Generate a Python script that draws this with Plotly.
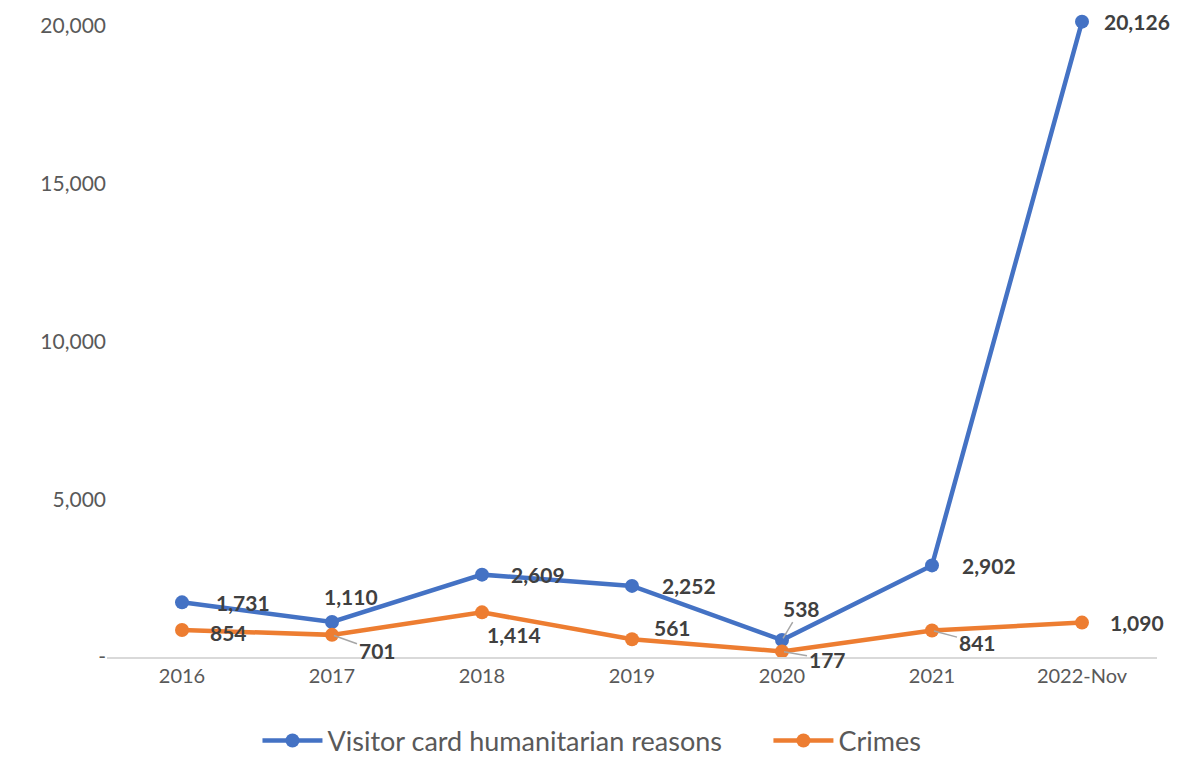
import plotly.graph_objects as go

categories = ["2016", "2017", "2018", "2019", "2020", "2021", "2022-Nov"]
visitor_card = [1731, 1110, 2609, 2252, 538, 2902, 20126]
crimes = [854, 701, 1414, 561, 177, 841, 1090]
tick_vals = [0, 5000, 10000, 15000, 20000]
tick_text = ["-", "5,000", "10,000", "15,000", "20,000"]

BLUE = "#4472C4"
ORANGE = "#ED7D31"
FONT = "Lato"

fig = go.Figure()
fig.add_trace(go.Scatter(x=categories, y=visitor_card, mode="lines+markers",
                         name="Visitor card humanitarian reasons" + "\u00a0" * 6,
                         line=dict(color=BLUE, width=4.5),
                         marker=dict(color=BLUE, size=14)))
fig.add_trace(go.Scatter(x=categories, y=crimes, mode="lines+markers",
                         name="Crimes",
                         line=dict(color=ORANGE, width=4.5),
                         marker=dict(color=ORANGE, size=14)))

# label offsets (pixels) and whether a leader line is drawn
blue_off = [(61, 0, False), (19, -25, False), (56, 0, False), (57, 0, False),
            (19, -32, True), (57, 0, False), (55, 0, False)]
orange_off = [(46, 2, False), (45, 16, True), (32, 22, False), (40, -12, False),
              (45, 8, True), (45, 12, True), (55, 0, False)]

def add_labels(vals, offs):
    for i, (v, (dx, dy, leader)) in enumerate(zip(vals, offs)):
        fig.add_annotation(x=i, y=v, xref="x", yref="y", text=f"<b>{v:,}</b>",
                           showarrow=True, ax=dx, ay=dy, axref="pixel", ayref="pixel",
                           arrowhead=0, arrowwidth=1.5,
                           arrowcolor="#A6A6A6" if leader else "rgba(0,0,0,0)",
                           standoff=2,
                           font=dict(family=FONT, size=21, color="#404040"))

add_labels(visitor_card, blue_off)
add_labels(crimes, orange_off)

fig.update_layout(
    width=1175, height=751,
    margin=dict(l=99, r=26, t=5, b=102, autoexpand=False),
    paper_bgcolor="white", plot_bgcolor="white",
    font=dict(family=FONT, color="#595959"),
    showlegend=True,
    legend=dict(orientation="h", x=0.497, xanchor="center", xref="container",
                y=1 - 733 / 751, yanchor="middle", yref="container",
                font=dict(family=FONT, size=27, color="#595959"),
                itemwidth=60, tracegroupgap=0),
    xaxis=dict(type="category", showgrid=False, showline=True, linecolor="#D9D9D9",
               linewidth=1.5, ticks="", tickfont=dict(family=FONT, size=20, color="#595959"),
               range=[-0.5, 6.5], automargin=False),
    yaxis=dict(range=[0, 20400], tickvals=tick_vals, ticktext=tick_text, showgrid=False,
               zeroline=False, showline=False, ticks="", automargin=False,
               tickfont=dict(family=FONT, size=21, color="#595959")),
)

fig.write_html("out.html")
